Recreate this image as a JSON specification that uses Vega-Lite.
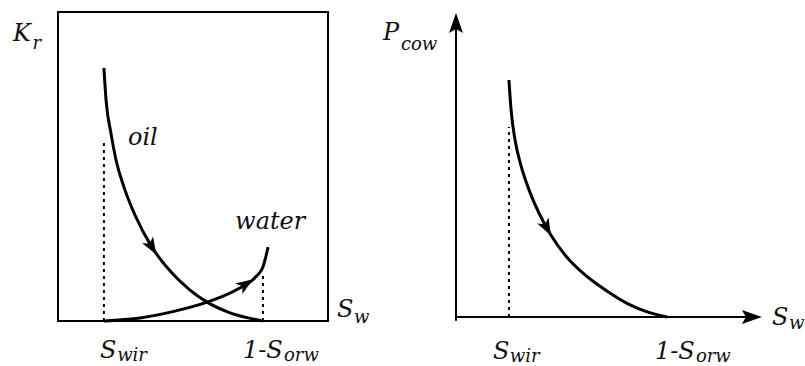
{
  "$schema": "https://vega.github.io/schema/vega-lite/v6.json",
  "padding": {"left": 11, "top": 11, "right": 0, "bottom": 6},
  "spacing": 128,
  "bounds": "flush",
  "background": "white",
  "config": {"view": {"stroke": null}},
  "datasets": {
    "kr": [
      {"phase": "oil", "sw": 0.170, "kr": 0.819},
      {"phase": "oil", "sw": 0.178, "kr": 0.715},
      {"phase": "oil", "sw": 0.196, "kr": 0.608},
      {"phase": "oil", "sw": 0.215, "kr": 0.521},
      {"phase": "oil", "sw": 0.244, "kr": 0.434},
      {"phase": "oil", "sw": 0.285, "kr": 0.343},
      {"phase": "oil", "sw": 0.348, "kr": 0.239},
      {"phase": "oil", "sw": 0.422, "kr": 0.155},
      {"phase": "oil", "sw": 0.489, "kr": 0.100},
      {"phase": "oil", "sw": 0.552, "kr": 0.061},
      {"phase": "oil", "sw": 0.630, "kr": 0.029},
      {"phase": "oil", "sw": 0.704, "kr": 0.010},
      {"phase": "oil", "sw": 0.759, "kr": 0.0},
      {"phase": "water", "sw": 0.170, "kr": 0.0},
      {"phase": "water", "sw": 0.304, "kr": 0.010},
      {"phase": "water", "sw": 0.433, "kr": 0.032},
      {"phase": "water", "sw": 0.552, "kr": 0.061},
      {"phase": "water", "sw": 0.663, "kr": 0.102},
      {"phase": "water", "sw": 0.730, "kr": 0.141},
      {"phase": "water", "sw": 0.759, "kr": 0.175},
      {"phase": "water", "sw": 0.778, "kr": 0.239}
    ],
    "krDash": [
      {"sw": 0.170, "bottom": 0, "top": 0.586},
      {"sw": 0.759, "bottom": 0, "top": 0.155}
    ],
    "oilArrow": [{"sw": 0.348, "kr": 0.239}],
    "waterArrow": [{"sw": 0.696, "kr": 0.120}],
    "krMain": [
      {"x": -0.1667, "y": 0.906, "t": "K"},
      {"x": 0.259, "y": 0.570, "t": "oil"},
      {"x": 0.656, "y": 0.298, "t": "water"},
      {"x": 1.033, "y": 0.013, "t": "S"},
      {"x": 0.156, "y": -0.120, "t": "S"},
      {"x": 0.685, "y": -0.120, "t": "1-S"}
    ],
    "krSub": [
      {"x": -0.094, "y": 0.880, "t": "r"},
      {"x": 1.096, "y": -0.006, "t": "w"},
      {"x": 0.219, "y": -0.130, "t": "wir"},
      {"x": 0.837, "y": -0.130, "t": "orw"}
    ],
    "pc": [
      {"sw": 0.173, "pc": 0.777},
      {"sw": 0.180, "pc": 0.679},
      {"sw": 0.193, "pc": 0.580},
      {"sw": 0.212, "pc": 0.498},
      {"sw": 0.239, "pc": 0.416},
      {"sw": 0.271, "pc": 0.341},
      {"sw": 0.310, "pc": 0.269},
      {"sw": 0.359, "pc": 0.200},
      {"sw": 0.418, "pc": 0.141},
      {"sw": 0.487, "pc": 0.089},
      {"sw": 0.562, "pc": 0.043},
      {"sw": 0.627, "pc": 0.016},
      {"sw": 0.690, "pc": 0.0}
    ],
    "pcDash": [{"sw": 0.173, "bottom": 0, "top": 0.623}],
    "pcArrow": [{"sw": 0.297, "pc": 0.292}],
    "xAxisLine": [{"x": 0, "x2": 0.95, "y": 0}],
    "yAxisLine": [{"x": 0, "y": -0.012, "y2": 0.95}],
    "xAxisHead": [{"x": 0.967, "y": 0}],
    "yAxisHead": [{"x": 0, "y": 0.964}],
    "pcMain": [
      {"x": -0.2386, "y": 0.908, "t": "P"},
      {"x": 1.033, "y": -0.026, "t": "S"},
      {"x": 0.121, "y": -0.138, "t": "S"},
      {"x": 0.650, "y": -0.138, "t": "1-S"}
    ],
    "pcSub": [
      {"x": -0.180, "y": 0.875, "t": "cow"},
      {"x": 1.088, "y": -0.039, "t": "w"},
      {"x": 0.176, "y": -0.148, "t": "wir"},
      {"x": 0.784, "y": -0.148, "t": "orw"}
    ]
  },
  "hconcat": [
    {
      "width": 270,
      "height": 309,
      "view": {"stroke": "black", "strokeWidth": 2},
      "layer": [
        {
          "data": {"name": "krDash"},
          "mark": {"type": "rule", "color": "black", "strokeWidth": 2, "strokeDash": [3, 4]},
          "encoding": {
            "x": {"field": "sw", "type": "quantitative", "scale": {"domain": [0, 1], "nice": false, "zero": false}, "axis": null},
            "y": {"field": "bottom", "type": "quantitative", "scale": {"domain": [0, 1], "nice": false, "zero": false}, "axis": null},
            "y2": {"field": "top"}
          }
        },
        {
          "data": {"name": "kr"},
          "mark": {"type": "line", "color": "black", "strokeWidth": 3, "interpolate": "monotone"},
          "encoding": {
            "x": {"field": "sw", "type": "quantitative"},
            "y": {"field": "kr", "type": "quantitative"},
            "detail": {"field": "phase", "type": "nominal"}
          }
        },
        {
          "data": {"name": "oilArrow"},
          "mark": {"type": "point", "filled": true, "color": "black", "opacity": 1, "size": 289, "angle": 59, "shape": "M1,0L-1,-0.75L-0.5,0L-1,0.75Z"},
          "encoding": {
            "x": {"field": "sw", "type": "quantitative"},
            "y": {"field": "kr", "type": "quantitative"}
          }
        },
        {
          "data": {"name": "waterArrow"},
          "mark": {"type": "point", "filled": true, "color": "black", "opacity": 1, "size": 289, "angle": 326, "shape": "M1,0L-1,-0.75L-0.5,0L-1,0.75Z"},
          "encoding": {
            "x": {"field": "sw", "type": "quantitative"},
            "y": {"field": "kr", "type": "quantitative"}
          }
        },
        {
          "data": {"name": "krMain"},
          "mark": {"type": "text", "font": "DejaVu Serif", "fontStyle": "italic", "fontSize": 24, "color": "#111", "align": "left", "baseline": "alphabetic"},
          "encoding": {
            "x": {"field": "x", "type": "quantitative"},
            "y": {"field": "y", "type": "quantitative"},
            "text": {"field": "t", "type": "nominal"}
          }
        },
        {
          "data": {"name": "krSub"},
          "mark": {"type": "text", "font": "DejaVu Serif", "fontStyle": "italic", "fontSize": 18, "color": "#111", "align": "left", "baseline": "alphabetic"},
          "encoding": {
            "x": {"field": "x", "type": "quantitative"},
            "y": {"field": "y", "type": "quantitative"},
            "text": {"field": "t", "type": "nominal"}
          }
        }
      ]
    },
    {
      "width": 306,
      "height": 305,
      "layer": [
        {
          "data": {"name": "pcDash"},
          "mark": {"type": "rule", "color": "black", "strokeWidth": 2, "strokeDash": [3, 4]},
          "encoding": {
            "x": {"field": "sw", "type": "quantitative", "scale": {"domain": [0, 1], "nice": false, "zero": false}, "axis": null},
            "y": {"field": "bottom", "type": "quantitative", "scale": {"domain": [0, 1], "nice": false, "zero": false}, "axis": null},
            "y2": {"field": "top"}
          }
        },
        {
          "data": {"name": "xAxisLine"},
          "mark": {"type": "rule", "color": "black", "strokeWidth": 2},
          "encoding": {
            "x": {"field": "x", "type": "quantitative"},
            "x2": {"field": "x2"},
            "y": {"field": "y", "type": "quantitative"}
          }
        },
        {
          "data": {"name": "yAxisLine"},
          "mark": {"type": "rule", "color": "black", "strokeWidth": 2},
          "encoding": {
            "x": {"field": "x", "type": "quantitative"},
            "y": {"field": "y", "type": "quantitative"},
            "y2": {"field": "y2"}
          }
        },
        {
          "data": {"name": "pc"},
          "mark": {"type": "line", "color": "black", "strokeWidth": 3, "interpolate": "monotone"},
          "encoding": {
            "x": {"field": "sw", "type": "quantitative"},
            "y": {"field": "pc", "type": "quantitative"}
          }
        },
        {
          "data": {"name": "pcArrow"},
          "mark": {"type": "point", "filled": true, "color": "black", "opacity": 1, "size": 289, "angle": 62, "shape": "M1,0L-1,-0.75L-0.5,0L-1,0.75Z"},
          "encoding": {
            "x": {"field": "sw", "type": "quantitative"},
            "y": {"field": "pc", "type": "quantitative"}
          }
        },
        {
          "data": {"name": "xAxisHead"},
          "mark": {"type": "point", "filled": true, "color": "black", "opacity": 1, "size": 400, "angle": 0, "shape": "M1,0L-1,-0.7L-0.6,0L-1,0.7Z"},
          "encoding": {
            "x": {"field": "x", "type": "quantitative"},
            "y": {"field": "y", "type": "quantitative"}
          }
        },
        {
          "data": {"name": "yAxisHead"},
          "mark": {"type": "point", "filled": true, "color": "black", "opacity": 1, "size": 400, "angle": 270, "shape": "M1,0L-1,-0.7L-0.6,0L-1,0.7Z"},
          "encoding": {
            "x": {"field": "x", "type": "quantitative"},
            "y": {"field": "y", "type": "quantitative"}
          }
        },
        {
          "data": {"name": "pcMain"},
          "mark": {"type": "text", "font": "DejaVu Serif", "fontStyle": "italic", "fontSize": 24, "color": "#111", "align": "left", "baseline": "alphabetic"},
          "encoding": {
            "x": {"field": "x", "type": "quantitative"},
            "y": {"field": "y", "type": "quantitative"},
            "text": {"field": "t", "type": "nominal"}
          }
        },
        {
          "data": {"name": "pcSub"},
          "mark": {"type": "text", "font": "DejaVu Serif", "fontStyle": "italic", "fontSize": 18, "color": "#111", "align": "left", "baseline": "alphabetic"},
          "encoding": {
            "x": {"field": "x", "type": "quantitative"},
            "y": {"field": "y", "type": "quantitative"},
            "text": {"field": "t", "type": "nominal"}
          }
        }
      ]
    }
  ]
}
